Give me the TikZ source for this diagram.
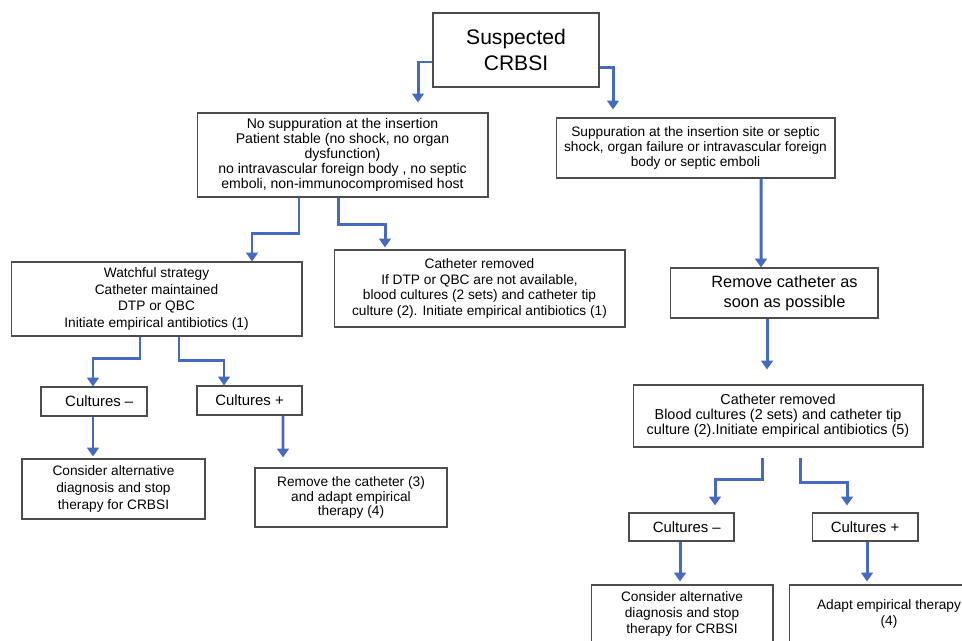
\documentclass[tikz,border=0pt]{standalone}
\usepackage{fontspec}
\setmainfont{Liberation Sans}
\usetikzlibrary{positioning, arrows.meta}
\usetikzlibrary{calc}
\definecolor{flowblue}{RGB}{70,106,190}
\tikzset{
box/.style={draw=black!70, line width=0.6pt, fill=white, align=center, inner sep=1pt, font=\fontsize{8}{8.6}\selectfont}, % every rectangle of the chart
flow/.style={draw=flowblue, line width=1.7pt, -{Triangle[width=6.6pt,length=5pt]}}, % the blue elbow arrows
}

\begin{document}
\begin{tikzpicture}[x=0.02cm, y=-0.02cm] % one unit is one pixel, y runs downwards
    \clip (0,0) rectangle (962,640);
    \node[box, minimum width=3.32cm, minimum height=1.48cm, font=\fontsize{12}{14.6}\selectfont] (crbsi) at (516,50) {Suspected\\CRBSI};
    \node[box, minimum width=5.82cm, minimum height=1.68cm] (nosupp) at (342.5,155) {No suppuration at the insertion\\Patient stable (no shock, no organ\\dysfunction)\\no intravascular foreign body , no septic\\emboli, non-immunocompromised host};
    \node[box, minimum width=5.58cm, minimum height=1.2cm, font=\fontsize{7.8}{8.6}\selectfont] (supp) at (695.5,148) {Suppuration at the insertion site or septic\\shock, organ failure or intravascular foreign\\body or septic emboli};
    \node[box, minimum width=5.82cm, minimum height=1.48cm, font=\fontsize{7.8}{9.6}\selectfont] (watch) at (156.5,299) {Watchful strategy\\Catheter maintained\\DTP or QBC\\Initiate empirical antibiotics (1)};
    \node[box, minimum width=5.82cm, minimum height=1.54cm, font=\fontsize{7.8}{9}\selectfont] (removedl) at (479.5,288.5) {Catheter removed\\If DTP or QBC are not available,\\blood cultures (2 sets) and catheter tip\\culture (2). Initiate empirical antibiotics (1)};
    \node[box, minimum width=4.16cm, minimum height=1cm, font=\fontsize{9.3}{11.3}\selectfont] (asap) at (774,293) {\hspace*{12pt}Remove catheter as\\\hspace*{12pt}soon as possible};
    \node[box, minimum width=2.12cm, minimum height=0.58cm, font=\fontsize{8.5}{9}\selectfont] (negl) at (94,401.5) {\hspace*{6pt}Cultures --};
    \node[box, minimum width=2.1cm, minimum height=0.58cm, font=\fontsize{8.5}{9}\selectfont] (posl) at (249.5,400.5) {Cultures +};
    \node[box, minimum width=3.66cm, minimum height=1.2cm, font=\fontsize{7.8}{9.6}\selectfont] (altl) at (113.5,489) {Consider alternative\\diagnosis and stop\\therapy for CRBSI};
    \node[box, minimum width=3.84cm, minimum height=1.18cm, font=\fontsize{7.8}{8.2}\selectfont] (adaptl) at (351,497.5) {Remove the catheter (3)\\and adapt empirical\\therapy (4)};
    \node[box, minimum width=5.8cm, minimum height=1.24cm, font=\fontsize{8.2}{8.6}\selectfont] (removedr) at (778,416) {Catheter removed\\Blood cultures (2 sets) and catheter tip\\culture (2).Initiate empirical antibiotics (5)};
    \node[box, minimum width=2.1cm, minimum height=0.56cm, font=\fontsize{8.5}{9}\selectfont] (negr) at (681.5,527) {\hspace*{6pt}Cultures --};
    \node[box, minimum width=2.12cm, minimum height=0.56cm, font=\fontsize{8.5}{9}\selectfont] (posr) at (865,527) {Cultures +};
    \node[box, minimum width=3.64cm, minimum height=1.16cm, font=\fontsize{7.8}{9}\selectfont] (altr) at (682,614) {Consider alternative\\diagnosis and stop\\therapy for CRBSI};
    \node[box, minimum width=4cm, minimum height=1.16cm, font=\fontsize{7.8}{9.6}\selectfont] (adaptr) at (889,614) {Adapt empirical therapy\\(4)};
    % arrows out of the first box
    \draw[flow, shorten >=0.2cm] ($(crbsi.west)+(0,12)$) -| ($(nosupp.north)+(75.5,0)$);
    \draw[flow, shorten >=0.16cm] ($(crbsi.east)+(0,17)$) -| ($(supp.north)+(-82.5,0)$);
    % left branch
    \draw[flow] ($(nosupp.south)+(-43.5,0)$) -- ++(0,36) -| ($(watch.north)+(95.5,0)$);
    \draw[flow, shorten >=0.04cm] ($(nosupp.south)+(-4.5,0)$) -- ++(0,27) -| ($(removedl.north)+(-94.5,0)$);
    \draw[flow] ($(watch.south)+(-16.5,0)$) -- ++(0,22) -| ($(negl.north)+(-1,0)$);
    \draw[flow] ($(watch.south)+(22.5,0)$) -- ++(0,24) -| ($(posl.north)+(-25.5,0)$);
    \draw[flow, shorten >=0.04cm] ($(negl.south)+(-1,0)$) -- ($(altl.north)+(-20.5,0)$);
    \draw[flow, shorten >=0.2cm] ($(posl.south)+(33.5,0)$) -- ($(adaptl.north)+(-68,0)$);
    % right branch
    \draw[flow] ($(supp.south)+(65.5,0)$) -- ($(asap.north)+(-13,0)$);
    \draw[flow, shorten >=0.3cm] ($(asap.south)+(-7,0)$) -- ($(removedr.north)+(-11,0)$);
    \draw[flow, shorten >=0.14cm] ($(removedr.south)+(-16,10)$) -- ++(0,22) -| ($(negr.north)+(33.5,0)$);
    \draw[flow, shorten >=0.14cm] ($(removedr.south)+(22,10)$) -- ++(0,25) -| ($(posr.north)+(-18,0)$);
    \draw[flow, shorten >=0.06cm] ($(negr.south)+(-1.5,0)$) -- ($(altr.north)+(-2,0)$);
    \draw[flow, shorten >=0.06cm] ($(posr.south)+(2,0)$) -- ($(adaptr.north)+(-22,0)$);
\end{tikzpicture}
\end{document}
